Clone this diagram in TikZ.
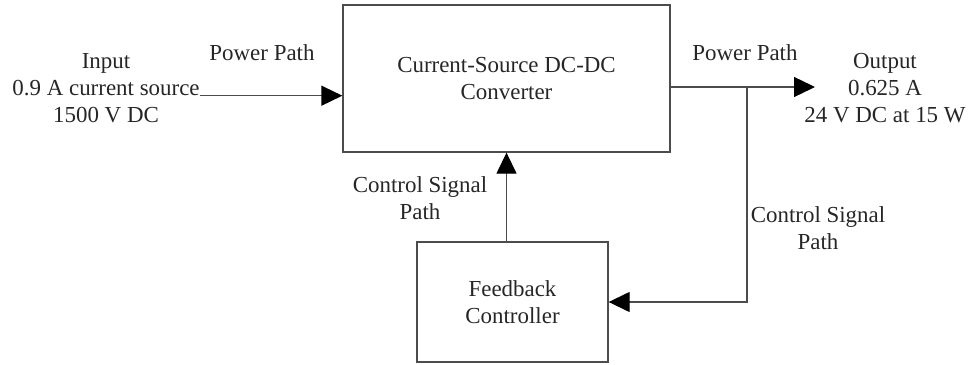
\documentclass[tikz,border=0pt]{standalone}
\usepackage{fontspec}
\setmainfont{Liberation Serif}
\newfontfamily\tnr{Liberation Serif}
\usetikzlibrary{arrows.meta}
\begin{document}
\begin{tikzpicture}[x=0.75pt,y=-0.75pt,
  every node/.style={text=black!85, font=\tnr\fontsize{17.2}{20.3}\selectfont, align=center},
  blockbox/.style={draw=black!70, line width=1pt, inner sep=0pt},
  conn/.style={draw=black!70, line width=1pt},
  arr/.style={conn, -{Triangle[length=15.75pt,width=15pt,color=black]}}]
\useasboundingbox (0,0) rectangle (969,364);
\node[blockbox, minimum width=245.25pt, minimum height=110.25pt] (main) at (506.5,78.5) {Current-Source DC-DC\\Converter};
\node[blockbox, minimum width=143.25pt, minimum height=90pt] (fb) at (512.5,302) {Feedback\\Controller};
\node[inner sep=0pt] (input) at (106,88) {Input\\0.9 A current source\\1500 V DC};
\node[inner sep=0pt] (output) at (885,88) {Output\\0.625 A\\24 V DC at 15 W};
\node (pp1) at (262,53) {Power Path};
\node (pp2) at (745,53) {Power Path};
\node (cs1) at (420,198) {Control Signal\\Path};
\node (cs2) at (818,228) {Control Signal\\Path};
\coordinate (inA) at (200,95.7);
\coordinate (outB) at (815,87);
\coordinate (br) at (747,87);
\draw[arr] (inA) -- (inA -| main.west);
\draw[arr] (outB -| main.east) -- (outB);
\draw[arr] (br) |- (fb.east);
\draw[arr] (fb.north -| main.south) -- (main.south);
\end{tikzpicture}
\end{document}
